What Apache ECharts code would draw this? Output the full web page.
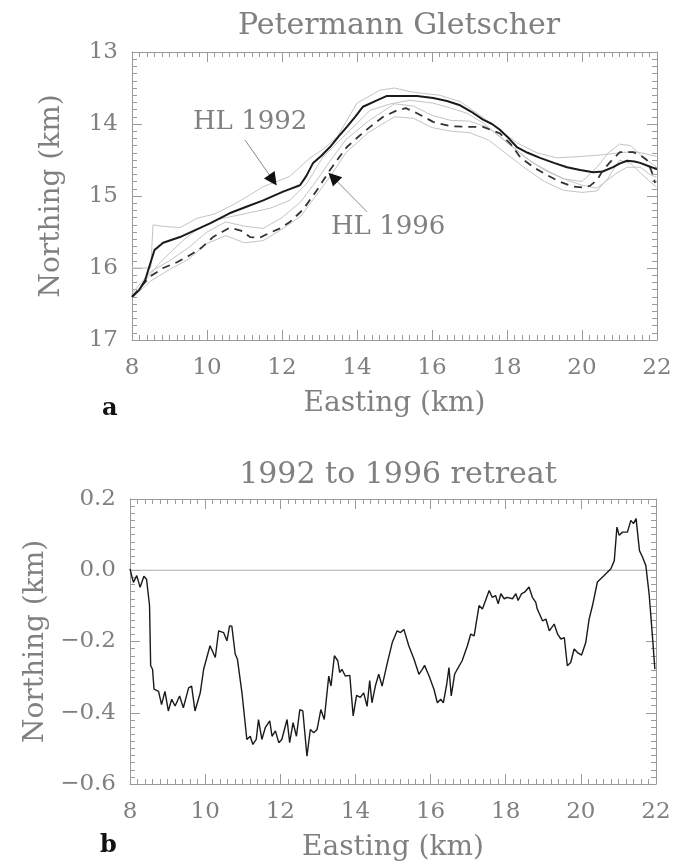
<!DOCTYPE html>
<html>
<head>
<meta charset="utf-8">
<script src="https://cdn.jsdelivr.net/npm/echarts@6/dist/echarts.min.js"></script>
<style>html,body{margin:0;padding:0;background:#fff}#c{width:677px;height:864px}</style>
</head>
<body>
<div id="c"></div>
<script>
// ---------- Panel a: Petermann Gletscher ----------
var xTicks = [8, 10, 12, 14, 16, 18, 20, 22];
var yTicksA = [13, 14, 15, 16, 17];
var yTicksB = [0.2, 0.0, -0.2, -0.4, -0.6];

var hl1992E = [8.0, 8.2, 8.35, 8.45, 8.6, 8.83, 9.28, 9.7, 10.08, 10.6, 11.05, 11.5, 12.03, 12.48, 12.65, 12.83, 13.05, 13.28, 13.5, 13.73, 13.95, 14.16, 14.5, 14.8, 15.15, 15.6, 16.03, 16.4, 16.75, 17.05, 17.36, 17.6, 17.81, 18.05, 18.26, 18.55, 18.88, 19.25, 19.6, 19.95, 20.3, 20.55, 20.83, 21.0, 21.2, 21.4, 21.55, 21.75, 21.9, 22.0];
var hl1992N = [16.40, 16.3, 16.17, 16.0, 15.75, 15.65, 15.57, 15.47, 15.38, 15.24, 15.15, 15.06, 14.94, 14.85, 14.72, 14.54, 14.44, 14.32, 14.18, 14.04, 13.9, 13.76, 13.68, 13.61, 13.61, 13.61, 13.64, 13.68, 13.74, 13.83, 13.94, 14.0, 14.08, 14.2, 14.32, 14.4, 14.47, 14.54, 14.6, 14.64, 14.67, 14.66, 14.6, 14.55, 14.51, 14.52, 14.54, 14.58, 14.61, 14.63];

var hl1996E = [8.0, 8.48, 8.83, 9.2, 9.55, 9.85, 10.16, 10.4, 10.61, 10.9, 11.15, 11.4, 11.68, 11.95, 12.21, 12.56, 12.93, 13.28, 13.5, 13.73, 14.05, 14.35, 14.7, 15.07, 15.3, 15.6, 16.03, 16.48, 17.0, 17.36, 17.81, 18.1, 18.35, 18.7, 19.07, 19.4, 19.76, 20.0, 20.21, 20.4, 20.56, 20.8, 21.01, 21.36, 21.55, 21.73, 21.85, 21.95];
var hl1996N = [16.40, 16.12, 16.0, 15.92, 15.82, 15.72, 15.57, 15.5, 15.44, 15.48, 15.57, 15.58, 15.51, 15.45, 15.36, 15.19, 14.92, 14.64, 14.48, 14.32, 14.17, 14.04, 13.9, 13.81, 13.78, 13.85, 13.97, 14.03, 14.04, 14.04, 14.13, 14.28, 14.46, 14.6, 14.71, 14.8, 14.87, 14.88, 14.86, 14.78, 14.64, 14.5, 14.39, 14.39, 14.43, 14.5, 14.65, 14.82];

var up1992E = [8.0, 8.5, 8.56, 8.8, 9.28, 9.73, 10.2, 10.7, 11.1, 11.5, 12.2, 12.75, 13.1, 13.47, 14.0, 14.61, 15.0, 15.41, 15.68, 16.2, 16.75, 17.2, 17.63, 18.26, 18.8, 19.33, 20.0, 20.5, 21.01, 21.4, 21.99];
var up1992N = [16.0, 16.0, 15.4, 15.42, 15.44, 15.31, 15.25, 15.12, 15.0, 14.87, 14.73, 14.47, 14.35, 14.18, 13.71, 13.53, 13.5, 13.55, 13.57, 13.6, 13.69, 13.85, 14.01, 14.26, 14.4, 14.47, 14.45, 14.43, 14.40, 14.38, 14.45];

var lo1992E = [8.0, 8.4, 8.7, 9.01, 9.4, 9.73, 10.27, 10.7, 11.07, 11.68, 12.21, 12.67, 13.09, 13.4, 13.73, 14.35, 14.9, 15.41, 16.03, 16.5, 16.93, 17.4, 17.81, 18.25, 18.69, 19.2, 19.6, 20.0, 20.4, 20.93, 21.2, 21.55, 21.8, 21.99];
var lo1992N = [16.4, 16.15, 15.95, 15.79, 15.6, 15.47, 15.33, 15.28, 15.24, 15.17, 15.06, 14.82, 14.46, 14.3, 14.13, 13.81, 13.72, 13.67, 13.71, 13.78, 13.85, 14.0, 14.18, 14.36, 14.54, 14.68, 14.78, 14.85, 14.89, 14.68, 14.6, 14.6, 14.7, 14.74];

var up1996E = [8.0, 8.5, 9.0, 9.5, 10.0, 10.5, 11.0, 11.5, 12.0, 12.5, 12.9, 13.3, 13.7, 14.3, 15.0, 15.5, 16.0, 16.5, 17.0, 17.5, 18.0, 18.5, 19.0, 19.5, 20.0, 20.4, 20.7, 21.0, 21.3, 21.6, 21.99];
var up1996N = [16.35, 16.05, 15.9, 15.72, 15.5, 15.36, 15.42, 15.45, 15.3, 15.08, 14.8, 14.5, 14.22, 13.96, 13.72, 13.75, 13.88, 13.95, 13.96, 14.05, 14.25, 14.47, 14.64, 14.76, 14.8, 14.6, 14.4, 14.28, 14.3, 14.45, 14.6];

var lo1996E = [8.0, 8.5, 9.0, 9.5, 10.0, 10.5, 11.0, 11.5, 12.0, 12.5, 12.9, 13.3, 13.7, 14.3, 15.0, 15.5, 16.0, 16.5, 17.0, 17.5, 18.0, 18.5, 19.0, 19.5, 20.0, 20.4, 20.7, 21.0, 21.3, 21.6, 21.99];
var lo1996N = [16.42, 16.18, 16.02, 15.88, 15.66, 15.55, 15.65, 15.62, 15.46, 15.28, 15.0, 14.72, 14.4, 14.12, 13.9, 13.92, 14.05, 14.1, 14.12, 14.22, 14.42, 14.62, 14.8, 14.92, 14.95, 14.93, 14.75, 14.5, 14.55, 14.7, 14.88];

// annotation anchors (data coordinates)
var label1992 = [11.15, 13.97];
var arrow1992 = [[11.01, 14.22], [11.76, 14.78]];
var label1996 = [14.83, 15.43];
var arrow1996 = [[14.27, 15.22], [13.36, 14.74]];

// ---------- Panel b: 1992 to 1996 retreat ----------
var retreatE = [8.0, 8.09, 8.18, 8.27, 8.37, 8.44, 8.52, 8.55, 8.6, 8.64, 8.76, 8.84, 8.93, 9.02, 9.11, 9.2, 9.32, 9.42, 9.56, 9.64, 9.73, 9.87, 9.96, 10.13, 10.27, 10.36, 10.49, 10.58, 10.65, 10.71, 10.8, 10.86, 10.98, 11.11, 11.2, 11.27, 11.36, 11.42, 11.51, 11.6, 11.72, 11.78, 11.87, 11.96, 12.04, 12.18, 12.25, 12.34, 12.43, 12.52, 12.6, 12.71, 12.8, 12.89, 12.98, 13.08, 13.17, 13.29, 13.35, 13.44, 13.53, 13.58, 13.64, 13.73, 13.85, 13.94, 14.03, 14.13, 14.22, 14.31, 14.38, 14.44, 14.53, 14.62, 14.71, 14.84, 14.98, 15.11, 15.2, 15.29, 15.42, 15.56, 15.69, 15.78, 15.84, 15.96, 16.09, 16.18, 16.27, 16.34, 16.43, 16.49, 16.55, 16.64, 16.71, 16.84, 16.98, 17.07, 17.16, 17.29, 17.38, 17.56, 17.64, 17.73, 17.8, 17.87, 17.96, 18.04, 18.18, 18.27, 18.33, 18.42, 18.51, 18.62, 18.71, 18.8, 18.84, 18.98, 19.07, 19.16, 19.29, 19.38, 19.47, 19.56, 19.64, 19.73, 19.82, 19.91, 20.02, 20.13, 20.22, 20.31, 20.44, 20.62, 20.8, 20.89, 20.96, 21.02, 21.11, 21.24, 21.33, 21.4, 21.47, 21.56, 21.64, 21.73, 21.82, 21.91, 21.97];
var retreatN = [0.004, -0.034, -0.015, -0.048, -0.017, -0.025, -0.099, -0.268, -0.278, -0.334, -0.340, -0.377, -0.340, -0.395, -0.362, -0.381, -0.353, -0.386, -0.330, -0.325, -0.395, -0.344, -0.278, -0.212, -0.245, -0.170, -0.175, -0.198, -0.156, -0.157, -0.235, -0.250, -0.344, -0.475, -0.466, -0.489, -0.475, -0.419, -0.475, -0.442, -0.423, -0.466, -0.451, -0.484, -0.475, -0.419, -0.484, -0.428, -0.466, -0.391, -0.395, -0.522, -0.447, -0.456, -0.447, -0.391, -0.419, -0.297, -0.325, -0.240, -0.254, -0.287, -0.278, -0.297, -0.295, -0.409, -0.351, -0.357, -0.344, -0.382, -0.310, -0.372, -0.325, -0.292, -0.325, -0.264, -0.203, -0.170, -0.175, -0.166, -0.212, -0.250, -0.292, -0.278, -0.267, -0.297, -0.334, -0.372, -0.362, -0.372, -0.320, -0.273, -0.353, -0.292, -0.278, -0.254, -0.212, -0.179, -0.184, -0.099, -0.109, -0.057, -0.076, -0.071, -0.094, -0.066, -0.080, -0.076, -0.080, -0.066, -0.085, -0.066, -0.061, -0.047, -0.076, -0.090, -0.109, -0.142, -0.137, -0.170, -0.151, -0.179, -0.193, -0.189, -0.268, -0.259, -0.221, -0.231, -0.238, -0.203, -0.137, -0.099, -0.033, -0.015, 0.004, 0.027, 0.121, 0.098, 0.107, 0.107, 0.140, 0.131, 0.145, 0.055, 0.037, 0.013, -0.070, -0.192, -0.278];
var zeroE = [8, 22];
var zeroN = [0, 0];

function zip(a, b) { return a.map(function (v, i) { return [v, b[i]]; }); }

var FONT = 'DejaVu Serif';
var TXT = '#808080';
var AX = '#9a9a9a';

function xAx(grid, pos, labels) {
  return {
    type: 'value', gridIndex: grid, position: pos, min: xTicks[0], max: xTicks[xTicks.length - 1], interval: 2,
    axisLine: { show: true, onZero: false, lineStyle: { color: AX, width: 1 } },
    axisTick: { show: true, inside: true, length: 10, lineStyle: { color: AX } },
    minorTick: { show: true, splitNumber: 10, length: 5, lineStyle: { color: AX } },
    splitLine: { show: false },
    axisLabel: { show: labels, margin: 17, color: TXT, fontFamily: FONT, fontSize: 23 },
    name: labels ? 'Easting (km)' : '', nameLocation: 'middle', nameGap: 50,
    nameTextStyle: { color: TXT, fontFamily: FONT, fontSize: 28 }
  };
}
function yAx(grid, pos, labels, opts) {
  var o = {
    type: 'value', gridIndex: grid, position: pos,
    axisLine: { show: true, onZero: false, lineStyle: { color: AX, width: 1 } },
    axisTick: { show: true, inside: true, length: 10, lineStyle: { color: AX } },
    minorTick: { show: true, splitNumber: 10, length: 5, lineStyle: { color: AX } },
    splitLine: { show: false },
    axisLabel: { show: labels, margin: 14, color: TXT, fontFamily: FONT, fontSize: 23 },
    name: labels ? 'Northing (km)' : '', nameLocation: 'middle', nameGap: 66,
    nameTextStyle: { color: TXT, fontFamily: FONT, fontSize: 28 }
  };
  for (var k in opts) o[k] = opts[k];
  return o;
}

var fmtB = function (v) { var r = Math.round(v * 10) / 10; return (r < 0 ? '\u2212' : '') + Math.abs(r).toFixed(1); };
var yA = { min: yTicksA[0], max: yTicksA[yTicksA.length - 1], interval: 1, inverse: true };
var yB = { min: yTicksB[yTicksB.length - 1], max: yTicksB[0], interval: 0.2 };

var chart = echarts.init(document.getElementById('c'), null, { renderer: 'canvas' });
var grayLine = { color: '#c4c4c4', width: 1 };
var annoText = { color: TXT, fontFamily: FONT, fontSize: 26 };

// thin gray shaft
function shaft(pts) {
  return {
    silent: true, symbol: ['none', 'none'],
    lineStyle: { color: '#8a8a8a', width: 1, type: 'solid' },
    label: { show: false },
    data: [[{ coord: pts[0] }, { coord: pts[1] }]]
  };
}
// black arrowhead: an invisible line along the last part of the shaft carrying the triangle
function headSeries(pts) {
  return {
    type: 'line', xAxisIndex: 0, yAxisIndex: 0, data: [], z: 5,
    markLine: {
      silent: true, symbol: ['none', 'triangle'], symbolSize: 13,
      lineStyle: { color: '#111', width: 0, opacity: 1, type: 'solid' },
      label: { show: false },
      data: [[{ coord: pts[0] }, { coord: pts[1] }]]
    }
  };
}

var yAxes = [
  yAx(0, 'left', true, yA), yAx(0, 'right', false, yA),
  yAx(1, 'left', true, yB), yAx(1, 'right', false, yB)
];
yAxes[2].axisLabel.formatter = fmtB;

chart.setOption({
  backgroundColor: '#ffffff',
  animation: false,
  title: [
    { text: 'Petermann Gletscher', left: 394, top: 6, textAlign: 'center',
      textStyle: { color: TXT, fontFamily: FONT, fontSize: 30, fontWeight: 'normal' } },
    { text: '1992 to 1996 retreat', left: 393, top: 455, textAlign: 'center',
      textStyle: { color: TXT, fontFamily: FONT, fontSize: 30, fontWeight: 'normal' } }
  ],
  grid: [
    { left: 132, top: 52, width: 525, height: 288 },
    { left: 130, top: 499, width: 526, height: 285 }
  ],
  xAxis: [xAx(0, 'bottom', true), xAx(0, 'top', false), xAx(1, 'bottom', true), xAx(1, 'top', false)],
  yAxis: yAxes,
  graphic: [
    { type: 'text', left: 102, top: 397, style: { text: 'a', fill: '#111', font: 'bold 24px "DejaVu Serif"' } },
    { type: 'text', left: 100, top: 834, style: { text: 'b', fill: '#111', font: 'bold 24px "DejaVu Serif"' } }
  ],
  series: [
    { type: 'line', xAxisIndex: 0, yAxisIndex: 0, data: zip(up1992E, up1992N), showSymbol: false, lineStyle: grayLine, z: 1 },
    { type: 'line', xAxisIndex: 0, yAxisIndex: 0, data: zip(lo1992E, lo1992N), showSymbol: false, lineStyle: grayLine, z: 1 },
    { type: 'line', xAxisIndex: 0, yAxisIndex: 0, data: zip(up1996E, up1996N), showSymbol: false, lineStyle: grayLine, z: 1 },
    { type: 'line', xAxisIndex: 0, yAxisIndex: 0, data: zip(lo1996E, lo1996N), showSymbol: false, lineStyle: grayLine, z: 1 },
    { type: 'line', xAxisIndex: 0, yAxisIndex: 0, data: zip(hl1996E, hl1996N), showSymbol: false,
      lineStyle: { color: '#333', width: 1.8, type: [8, 6] }, z: 2,
      markPoint: { symbol: 'circle', symbolSize: 0, silent: true,
        data: [{ coord: label1996, label: Object.assign({ show: true, formatter: 'HL 1996' }, annoText) }] },
      markLine: shaft(arrow1996) },
    { type: 'line', xAxisIndex: 0, yAxisIndex: 0, data: zip(hl1992E, hl1992N), showSymbol: false,
      lineStyle: { color: '#1a1a1a', width: 2 }, z: 3,
      markPoint: { symbol: 'circle', symbolSize: 0, silent: true,
        data: [{ coord: label1992, label: Object.assign({ show: true, formatter: 'HL 1992' }, annoText) }] },
      markLine: shaft(arrow1992) },
    headSeries(arrow1992),
    headSeries(arrow1996),
    { type: 'line', xAxisIndex: 2, yAxisIndex: 2, data: zip(zeroE, zeroN), showSymbol: false, lineStyle: { color: '#aaa', width: 1 }, z: 1 },
    { type: 'line', xAxisIndex: 2, yAxisIndex: 2, data: zip(retreatE, retreatN), showSymbol: false, lineStyle: { color: '#1a1a1a', width: 1.4 }, z: 2 }
  ]
});
</script>
</body>
</html>
